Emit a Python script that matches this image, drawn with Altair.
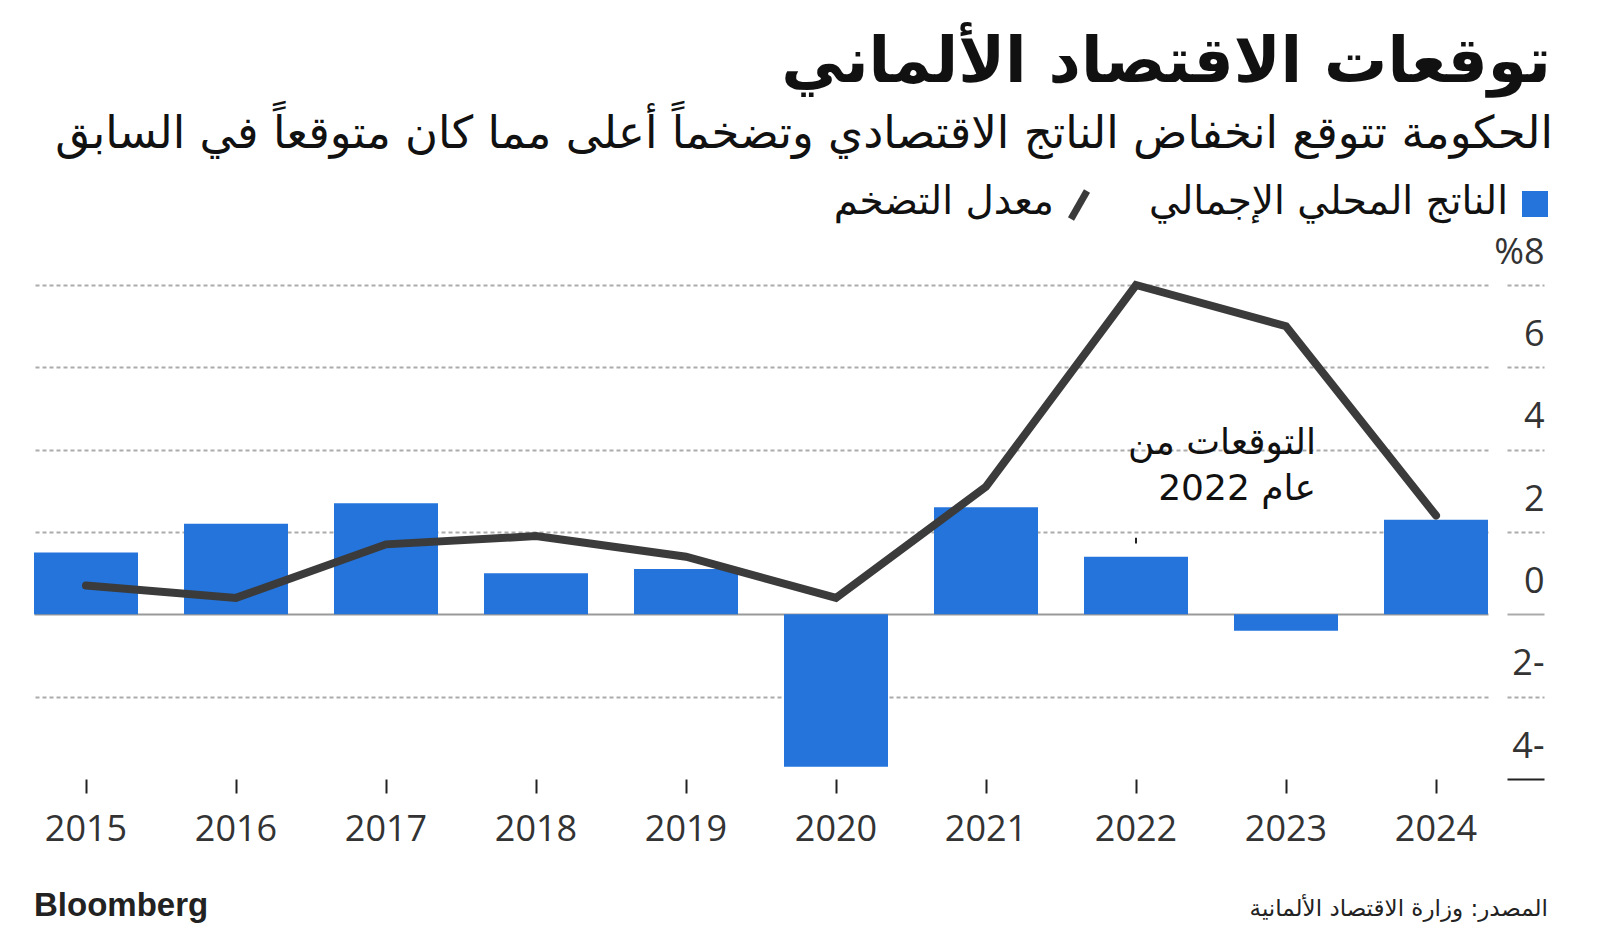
import altair as alt
import pandas as pd

years = ["2015", "2016", "2017", "2018", "2019", "2020", "2021", "2022", "2023", "2024"]
gdp = [1.5, 2.2, 2.7, 1.0, 1.1, -3.7, 2.6, 1.4, -0.4, 2.3]
inflation = [0.7, 0.4, 1.7, 1.9, 1.4, 0.4, 3.1, 8.0, 7.0, 2.4]
y_ticks = [-4, -2, 0, 2, 4, 6, 8]

title_text = "توقعات الاقتصاد الألماني"
subtitle_text = "الحكومة تتوقع انخفاض الناتج الاقتصادي وتضخماً أعلى مما كان متوقعاً في السابق"
legend_gdp = "الناتج المحلي الإجمالي"
legend_inf = "معدل التضخم"
note_lines = ["التوقعات من", "عام 2022"]
source_text = "المصدر: وزارة الاقتصاد الألمانية"
brand_text = "Bloomberg"

AR_FONT = "DejaVu Sans"
NUM_FONT = "Open Sans"
BLUE = "#2474DB"
DARK = "#3B3B3B"
GRID = "#ABABAB"

df = pd.DataFrame({"year": years, "gdp": gdp, "inflation": inflation})

W, H = 1454, 494

xscale = alt.Scale(paddingInner=46 / 150, paddingOuter=0)
yscale = alt.Scale(domain=[-4, 8], nice=False, zero=False)

base = alt.Chart(df)

bars = base.mark_bar(color=BLUE).encode(
    x=alt.X("year:O", scale=xscale, axis=alt.Axis(
        title=None, domain=False, labelAngle=0, tickSize=14, tickWidth=2,
        tickColor="#222", labelFont=NUM_FONT, labelFontSize=36, labelColor="#333",
        labelPadding=19, grid=False)),
    y=alt.Y("gdp:Q", scale=yscale, axis=alt.Axis(
        orient="right", values=y_ticks, title=None, domain=False,
        offset=19, tickSize=37, tickWidth=2,
        tickColor={"condition": {"test": "datum.value == -4", "value": "#222"}, "value": GRID},
        tickDash={"condition": {"test": "datum.value == 0 || datum.value == -4", "value": []}, "value": [4, 3]},
        labelAlign="right", labelPadding=0, labelBaseline="alphabetic", labelOffset=-22,
        labelFont=NUM_FONT, labelFontSize=36, labelColor="#333",
        labelExpr="datum.value == 8 ? '%8' : (datum.value < 0 ? abs(datum.value) + '-' : datum.value)",
        grid=True, gridWidth=2,
        gridColor={"condition": {"test": "datum.value == 0", "value": "#999"}, "value": GRID},
        gridDash={"condition": {"test": "datum.value == 0", "value": []}, "value": [4, 3]},
        gridOpacity={"condition": {"test": "datum.value == -4", "value": 0}, "value": 1},
    )),
)

line = base.mark_line(color=DARK, strokeWidth=8, strokeCap="round", strokeJoin="miter").encode(
    x=alt.X("year:O", scale=xscale),
    y=alt.Y("inflation:Q", scale=yscale),
)

mark_df = pd.DataFrame({"year": ["2022"], "y0": [1.72], "y1": [1.86]})
marker = alt.Chart(mark_df).mark_rule(color="#222", strokeWidth=2).encode(
    x=alt.X("year:O", scale=xscale), y=alt.Y("y0:Q", scale=yscale), y2="y1:Q"
)


def txt(text, x, y, size, align="right", font=AR_FONT, weight="normal", color="#111"):
    return alt.Chart(pd.DataFrame({"t": [text]})).mark_text(
        align=align, baseline="alphabetic", font=font, fontSize=size,
        fontWeight=weight, color=color
    ).encode(x=alt.value(x), y=alt.value(y), text="t:N")


title = txt(title_text, 1517, -203, 63, weight="bold")
subtitle = txt(subtitle_text, 1519, -137, 45)
leg_t1 = txt(legend_gdp, 1474, -71, 39)
leg_t2 = txt(legend_inf, 1020, -71, 39)
leg_sq = alt.Chart(pd.DataFrame({"t": [0]})).mark_square(color=BLUE, size=676, opacity=1).encode(
    x=alt.value(1501), y=alt.value(-81))
leg_ln = alt.Chart(pd.DataFrame({"t": [0]})).mark_rule(color=DARK, strokeWidth=7).encode(
    x=alt.value(1037), x2=alt.value(1053), y=alt.value(-66), y2=alt.value(-94))
note1 = txt(note_lines[0], 1282, 169, 36)
note2 = txt(note_lines[1], 1282, 215, 36)
brand = txt(brand_text, 0, 631, 33, align="left", font="Liberation Sans", weight="bold", color="#222")
source = txt(source_text, 1514, 631, 23, color="#222")

chart = alt.layer(
    bars, line, marker, title, subtitle, leg_sq, leg_ln, leg_t1, leg_t2,
    note1, note2, brand, source
).properties(
    width=W, height=H,
    autosize=alt.AutoSizeParams(type="none"),
    padding={"left": 26, "top": 277, "right": 100, "bottom": 150},
).configure(background="white").configure_view(stroke=None)

chart.save("out.html", embed_options={"renderer": "svg", "actions": False})
